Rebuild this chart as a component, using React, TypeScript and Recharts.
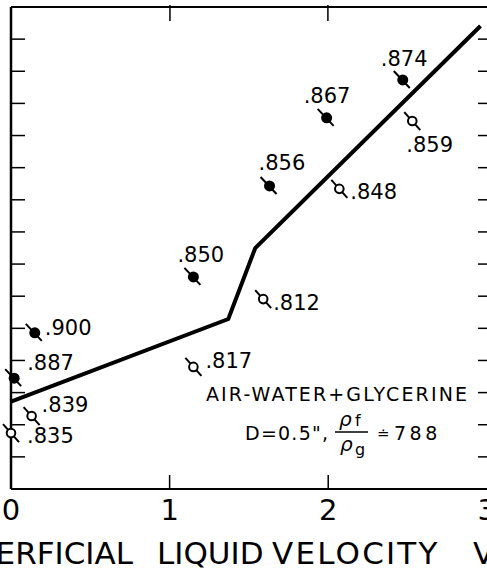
import React from 'react';
import { ScatterChart, Scatter, XAxis, YAxis, Customized } from 'recharts';

// closed symbols
const solidX = [0.02, 0.15, 1.15, 1.63, 1.99, 2.47];
const solidY = [3.45, 4.86, 6.6, 9.43, 11.55, 12.73];
const solidTags = ['.887', '.900', '.850', '.856', '.867', '.874'];

// open symbols
const openX = [0.0, 0.13, 1.15, 1.59, 2.07, 2.53];
const openY = [1.74, 2.27, 3.8, 5.91, 9.34, 11.45];
const openTags = ['.835', '.839', '.817', '.812', '.848', '.859'];

// transition curve
const fitX = [0, 1.37, 1.54, 2.96];
const fitY = [2.72, 5.29, 7.5, 14.41];

const xTicks = [0, 1, 2, 3];
const topTicks = [1, 2];
const yTicks = [1, 2, 3, 4, 5, 6, 7, 8, 9, 10, 11, 12, 13, 14];
const X_MAX = 3.02;
const Y_MAX = 15;

// where each tag sits relative to its symbol (text start, baseline)
const tagOffset: Record<string, [number, number]> = {
  '.874': [-22, -14],
  '.867': [-23, -15],
  '.856': [-11, -16],
  '.850': [-16, -15],
  '.900': [10, 2],
  '.887': [13, -8],
  '.859': [-6, 31],
  '.848': [11, 10],
  '.812': [10, 11],
  '.817': [12, 1],
  '.839': [10, -4],
  '.835': [16, 10],
};

const FONT = '"DejaVu Sans", sans-serif';
const CHART_W = 491;
const CHART_H = 577;
const MARGIN = { top: 6, right: 1, left: 11, bottom: 0 };
// plot box inside the 1px frame axes
const PLOT_LEFT = MARGIN.left + 1;
const PLOT_RIGHT = CHART_W - MARGIN.right - 1;
const PLOT_TOP = MARGIN.top + 1;

const solidData = solidX.map((x, i) => ({ x, y: solidY[i], tag: solidTags[i] }));
const openData = openX.map((x, i) => ({ x, y: openY[i], tag: openTags[i] }));
const fitData = fitX.map((x, i) => ({ x, y: fitY[i] }));

const Tag = ({ cx, cy, tag }: any) => {
  const [dx, dy] = tagOffset[tag] || [8, 0];
  return (
    <text x={cx + dx} y={cy + dy} fontSize={21} fontFamily={FONT} fill="#000">
      {tag}
    </text>
  );
};

const SolidDot = (props: any) => {
  const { cx, cy, payload } = props;
  return (
    <g>
      <line x1={cx - 9} y1={cy - 9} x2={cx + 7} y2={cy + 8} stroke="#000" strokeWidth={2} />
      <circle cx={cx} cy={cy} r={5.5} fill="#000" />
      <Tag cx={cx} cy={cy} tag={payload.tag} />
    </g>
  );
};

const OpenDot = (props: any) => {
  const { cx, cy, payload } = props;
  return (
    <g>
      <line x1={cx - 8} y1={cy - 9} x2={cx + 8} y2={cy + 9} stroke="#000" strokeWidth={2} />
      <circle cx={cx} cy={cy} r={4.3} fill="#fff" stroke="#000" strokeWidth={2} />
      <Tag cx={cx} cy={cy} tag={payload.tag} />
    </g>
  );
};

const NoDot = () => <g />;

// inward tick marks, no labels
const LeftTick = ({ x, y }: any) => (
  <line x1={x} x2={x + 14} y1={y} y2={y} stroke="#000" strokeWidth={1.5} />
);
const RightTick = ({ x, y }: any) => (
  <line x1={x} x2={x - 12} y1={y} y2={y} stroke="#000" strokeWidth={1.5} />
);

const BottomTick = (props: any) => {
  const { x, y, payload } = props;
  const v = payload.value;
  return (
    <g>
      {v > 0 && v < 3 && (
        <line x1={x} x2={x} y1={y} y2={y - 14} stroke="#000" strokeWidth={1.5} />
      )}
      <text x={x} y={y + 31} textAnchor="middle" fontSize={29} fontFamily={FONT} fill="#000">
        {v}
      </text>
    </g>
  );
};

// same linear mapping as the bottom axis, for the ticks on the top frame line
const topTickX = (t: number) => PLOT_LEFT + (t / X_MAX) * (PLOT_RIGHT - PLOT_LEFT);

const Notes = () => (
  <g fontFamily={FONT} fill="#000">
    {topTicks.map((t) => (
      <rect key={t} x={topTickX(t) - 0.75} y={PLOT_TOP - 2} width={1.5} height={16} fill="#000" />
    ))}
    <text x={206} y={401} fontSize={19} textLength={261} lengthAdjust="spacing">
      AIR-WATER+GLYCERINE
    </text>
    <text x={245} y={440} fontSize={19} textLength={83} lengthAdjust="spacing">
      D=0.5",
    </text>
    <text x={339} y={426} fontSize={20} fontStyle="italic">ρ</text>
    <text x={355} y={426} fontSize={16}>f</text>
    <line x1={335} x2={368} y1={432} y2={432} stroke="#000" strokeWidth={1.5} />
    <text x={340} y={451} fontSize={20} fontStyle="italic">ρ</text>
    <text x={355} y={455} fontSize={16}>g</text>
    <text x={377} y={439} fontSize={15}>≐</text>
    <text x={394} y={440} fontSize={19} letterSpacing={3.5}>
      788
    </text>
    <text y={564} fontSize={31}>
      <tspan x={133} textAnchor="end">SUPERFICIAL</tspan>
      <tspan x={157} textAnchor="start">LIQUID</tspan>
      <tspan x={272} textAnchor="start" letterSpacing={2.2}>VELOCITY</tspan>
      <tspan x={473} textAnchor="start">V</tspan>
    </text>
  </g>
);

const axisStroke = { stroke: '#000', strokeWidth: 2 };

export default function App() {
  return (
    <div
      style={{
        position: 'absolute',
        left: 0,
        top: 0,
        width: 487,
        height: CHART_H,
        overflow: 'hidden',
        background: '#fff',
      }}
    >
      <ScatterChart width={CHART_W} height={CHART_H} margin={MARGIN}>
        <XAxis
          xAxisId="bottom"
          type="number"
          dataKey="x"
          domain={[0, X_MAX]}
          ticks={xTicks}
          interval={0}
          height={88}
          tickLine={false}
          tickSize={0}
          tickMargin={0}
          tick={<BottomTick />}
          axisLine={axisStroke}
        />
        <XAxis
          xAxisId="top"
          orientation="top"
          type="number"
          dataKey="x"
          domain={[0, X_MAX]}
          height={1}
          tick={false}
          tickLine={false}
          axisLine={axisStroke}
        />
        <YAxis
          yAxisId="left"
          type="number"
          dataKey="y"
          domain={[0, Y_MAX]}
          ticks={yTicks}
          interval={0}
          width={1}
          mirror
          tickLine={false}
          tickSize={0}
          tickMargin={0}
          tick={<LeftTick />}
          axisLine={{ stroke: '#000', strokeWidth: 2.5 }}
        />
        <YAxis
          yAxisId="right"
          orientation="right"
          type="number"
          dataKey="y"
          domain={[0, Y_MAX]}
          ticks={yTicks}
          interval={0}
          width={1}
          mirror
          tickLine={false}
          tickSize={0}
          tickMargin={0}
          tick={<RightTick />}
          axisLine={axisStroke}
        />
        <Scatter
          xAxisId="bottom"
          yAxisId="left"
          data={fitData}
          line={{ stroke: '#000', strokeWidth: 4 }}
          shape={<NoDot />}
          isAnimationActive={false}
        />
        {/* binds the top and right frame axes to the same scales */}
        <Scatter
          xAxisId="top"
          yAxisId="right"
          data={fitData}
          shape={<NoDot />}
          isAnimationActive={false}
        />
        <Scatter
          xAxisId="bottom"
          yAxisId="left"
          data={solidData}
          shape={<SolidDot />}
          isAnimationActive={false}
        />
        <Scatter
          xAxisId="bottom"
          yAxisId="left"
          data={openData}
          shape={<OpenDot />}
          isAnimationActive={false}
        />
        <Customized component={<Notes />} />
      </ScatterChart>
    </div>
  );
}
